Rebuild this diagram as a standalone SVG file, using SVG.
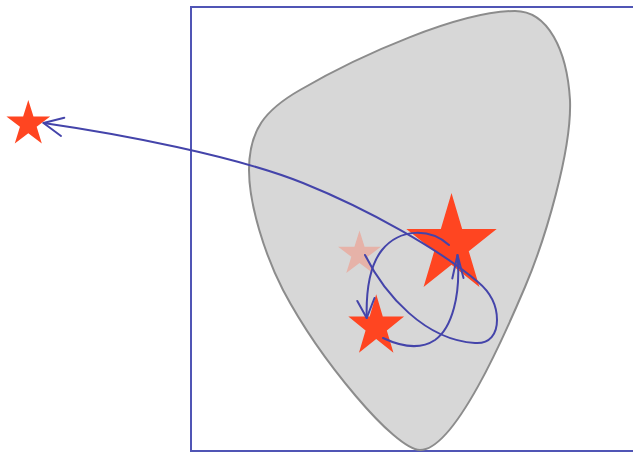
<svg xmlns="http://www.w3.org/2000/svg" xmlns:xlink="http://www.w3.org/1999/xlink" width="633" height="452" viewBox="0 0 633 452">
  <style>
    .frame { fill: none; stroke: #5055B5; stroke-width: 2; }
    .blob { fill: #D7D7D7; stroke: #8C8C8C; stroke-width: 2; }
    .star { fill: #FF4521; }
    .star-pale { fill: #E6B2A8; }
    .conn { fill: none; stroke: #4444AA; stroke-width: 2; stroke-linecap: round; stroke-linejoin: round; }
  </style>
  <defs>
    <polygon id="star" points="0,-1 0.2245,-0.309 0.9511,-0.309 0.3633,0.118 0.5878,0.809 0,0.382 -0.5878,0.809 -0.3633,0.118 -0.9511,-0.309 -0.2245,-0.309"/>
  </defs>

  <g id="frame">
    <rect class="frame" x="191" y="7" width="460" height="444"/>
  </g>

  <g id="region">
    <path class="blob" d="M 515,11 C 548,11 567,50 570,100 C 572,150 545,240 525,287 C 505,334 455,450 420,450 C 395,450 320,360 283,290 C 265,255 249,205 249,170 C 249,130 265,110 300,90 C 360,55 460,11 515,11 Z"/>
  </g>

  <g id="star-far">
    <use xlink:href="#star" class="star" transform="translate(28.3,124) scale(23,24)"/>
  </g>
  <g id="star-pale">
    <use xlink:href="#star" class="star-pale" transform="translate(359.5,254) scale(22.5,23.5)"/>
  </g>
  <g id="star-big">
    <use xlink:href="#star" class="star" transform="translate(451.5,245) scale(47.5,52)"/>
  </g>
  <g id="star-low">
    <use xlink:href="#star" class="star" transform="translate(376.2,326.6) scale(29.3,32.3)"/>
  </g>

  <g id="connectors">
    <path class="conn" d="M 365,255 C 385,295 425,340 475,343 C 490,344 497,334 497,320 C 497,305 490,292 478,282 C 440,250 370,210 303,183 C 236,156 120,134 43.5,123"/>
    <path class="conn" d="M 64.3,117.7 L 43.5,123 L 61,136"/>
    <path class="conn" d="M 449,245 C 430,228 400,228 382,250 C 370,265 366,290 366.7,318"/>
    <path class="conn" d="M 357.3,301 L 366.7,318 L 374.5,298"/>
    <path class="conn" d="M 383,338 C 400,346 420,350 435,340 C 452,328 461,295 457.5,255"/>
    <path class="conn" d="M 452.3,278.5 L 457.5,255 L 463.5,278"/>
  </g>
</svg>
